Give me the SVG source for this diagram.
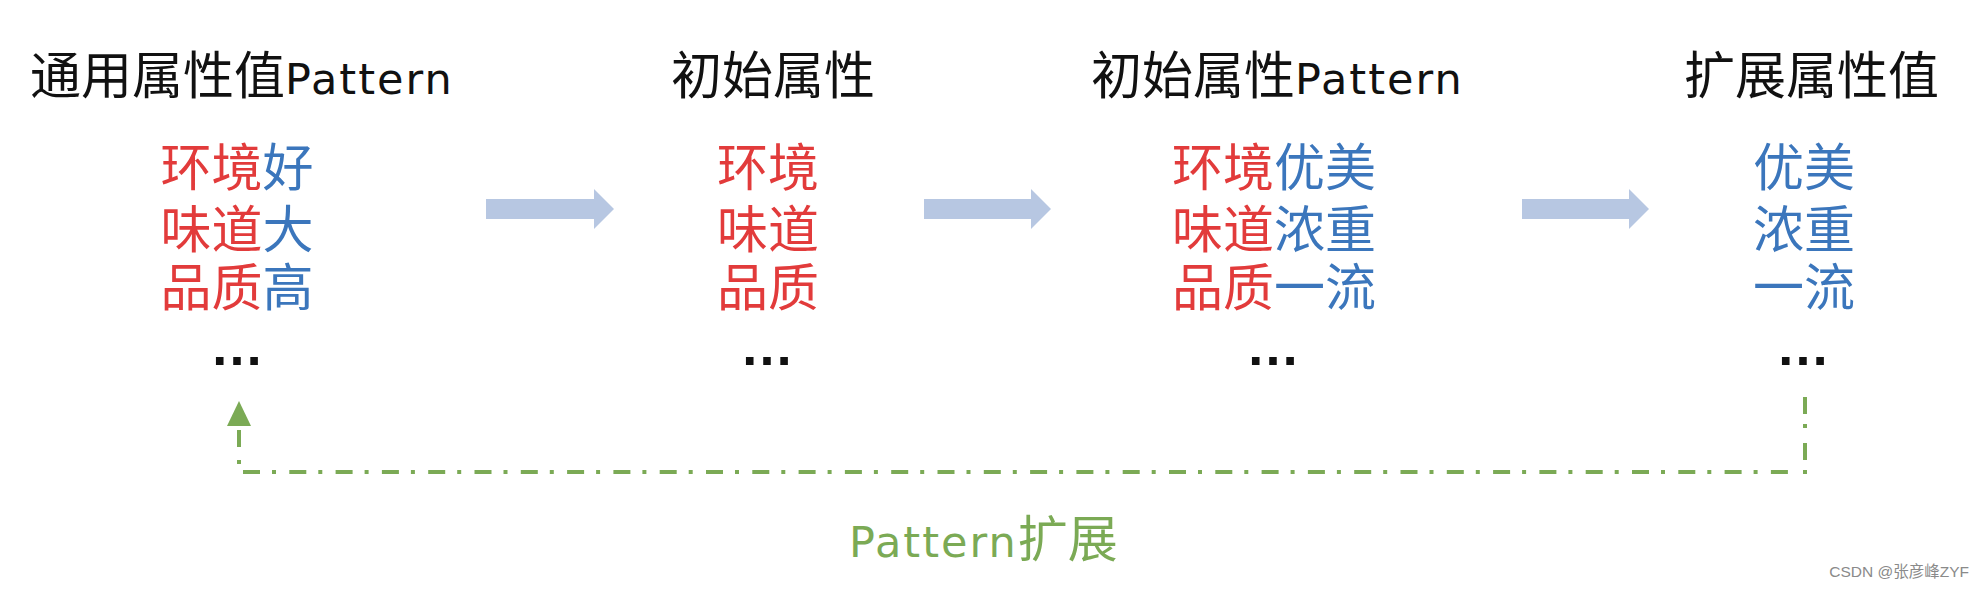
<svg xmlns="http://www.w3.org/2000/svg" width="1977" height="590" viewBox="0 0 1977 590">
  <style>
    text { font-family: "Noto Sans CJK SC", "Liberation Sans", sans-serif; }
    .title { font-size: 51px; fill: #111111; }
    .lat { font-family: "DejaVu Sans", "Liberation Sans", sans-serif; font-size: 43px; letter-spacing: 2px; }
    .body { font-size: 51px; text-anchor: middle; }
    .red { fill: #E23B3B; }
    .blue { fill: #3B76BC; }
    .dots { font-family: "Liberation Sans", sans-serif; font-size: 54px; font-weight: bold; fill: #111111; text-anchor: middle; }
    .flow { fill: #B7C7E2; }
    .dash { fill: none; stroke: #7BAA55; stroke-width: 4; stroke-linecap: butt; }
    .label { font-size: 50px; fill: #7BAA55; }
    .wm { font-family: "Liberation Sans", "Noto Sans CJK SC", sans-serif; font-size: 15.5px; fill: #8A8A8A; text-anchor: end; }
  </style>
  <rect width="1977" height="590" fill="#FFFFFF"/>

  <g id="node-general-pattern">
    <text class="title" x="30" y="94">通用属性值<tspan class="lat">Pattern</tspan></text>
    <text class="body" x="237" y="186"><tspan class="red">环境</tspan><tspan class="blue">好</tspan><tspan x="237" dy="62" class="red">味道</tspan><tspan class="blue">大</tspan><tspan x="237" dy="58" class="red">品质</tspan><tspan class="blue">高</tspan></text>
    <text class="dots" x="237" y="365">…</text>
  </g>

  <g id="node-initial-attr">
    <text class="title" x="671" y="94">初始属性</text>
    <text class="body red" x="768" y="186">环境<tspan x="768" dy="62">味道</tspan><tspan x="768" dy="58">品质</tspan></text>
    <text class="dots" x="767" y="365">…</text>
  </g>

  <g id="node-initial-pattern">
    <text class="title" x="1091" y="94">初始属性<tspan class="lat">Pattern</tspan></text>
    <text class="body" x="1274" y="186"><tspan class="red">环境</tspan><tspan class="blue">优美</tspan><tspan x="1274" dy="62" class="red">味道</tspan><tspan class="blue">浓重</tspan><tspan x="1274" dy="58" class="red">品质</tspan><tspan class="blue">一流</tspan></text>
    <text class="dots" x="1273" y="365">…</text>
  </g>

  <g id="node-extended-values">
    <text class="title" x="1684" y="94">扩展属性值</text>
    <text class="body blue" x="1804" y="186">优美<tspan x="1804" dy="62">浓重</tspan><tspan x="1804" dy="58">一流</tspan></text>
    <text class="dots" x="1803" y="365">…</text>
  </g>

  <g id="connectors">
    <polygon class="flow" points="486,199 594,199 594,189 614,209 594,229 594,219 486,219"/>
    <polygon class="flow" points="924,199 1031,199 1031,189 1051,209 1031,229 1031,219 924,219"/>
    <polygon class="flow" points="1522,199 1629,199 1629,189 1649,209 1629,229 1629,219 1522,219"/>
    <path class="dash" d="M1805,397 V474" stroke-dasharray="17 10 4 15"/>
    <path class="dash" d="M243,472 H1790" stroke-dasharray="17 12 4 13.3"/>
    <path class="dash" d="M239,464 V426" stroke-dasharray="4 13 17 10"/>
    <polygon points="239,401 227,426 251,426" fill="#7BAA55"/>
    <text class="label" x="849" y="557"><tspan class="lat">Pattern</tspan>扩展</text>
  </g>

  <text class="wm" x="1969" y="577">CSDN @张彦峰ZYF</text>
</svg>
